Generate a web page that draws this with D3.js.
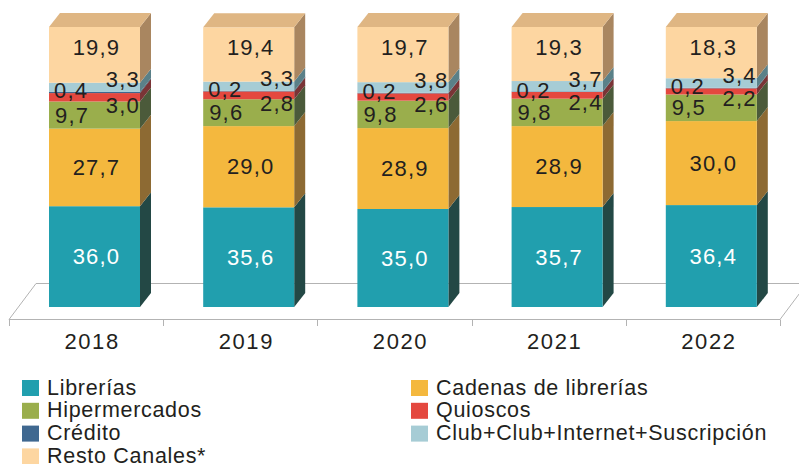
<!DOCTYPE html>
<html>
<head>
<meta charset="utf-8">
<script src="https://cdn.jsdelivr.net/npm/d3@7"></script>
<style>
  html, body { margin: 0; padding: 0; background: #fff; }
  svg { display: block; font-family: "Liberation Sans", Arial, Helvetica, sans-serif; }
</style>
</head>
<body>
<svg id="chart" width="799" height="464"></svg>
<script>
// Share of book sales by channel (%), per year
const years = ["2018", "2019", "2020", "2021", "2022"];
const librerias   = [36.0, 35.6, 35.0, 35.7, 36.4];
const cadenas     = [27.7, 29.0, 28.9, 28.9, 30.0];
const hiper       = [9.7, 9.6, 9.8, 9.8, 9.5];
const quioscos    = [3.0, 2.8, 2.6, 2.4, 2.2];
const credito     = [0.4, 0.2, 0.2, 0.2, 0.2];
const club        = [3.3, 3.3, 3.8, 3.7, 3.4];
const resto       = [19.9, 19.4, 19.7, 19.3, 18.3];

const seriesNames = ["Librerías", "Cadenas de librerías", "Hipermercados", "Quioscos",
                     "Crédito", "Club+Club+Internet+Suscripción", "Resto Canales*"];
const seriesValues = [librerias, cadenas, hiper, quioscos, credito, club, resto];

// front, side and top shades for each channel
const front = ["#219fae", "#f4b83e", "#9aae4c", "#e4483f", "#3f6890", "#a6ccd5", "#fdd6a1"];
const side  = ["#234845", "#8d6a33", "#4b5a3a", "#7a3436", "#2a3f55", "#5a8088", "#a98660"];
const topShade = "#dfb683";

const legendLeft  = ["Librerías", "Hipermercados", "Crédito", "Resto Canales*"];
const legendRight = ["Cadenas de librerías", "Quioscos", "Club+Club+Internet+Suscripción"];

const rows = years.map((y, i) => {
  const r = { year: y };
  seriesNames.forEach((n, k) => r[n] = seriesValues[k][i]);
  return r;
});

const stacked = d3.stack().keys(seriesNames)(rows);

const svg = d3.select("#chart");
const fmt = v => d3.format(".1f")(v).replace(".", ",");
const textColor = "#231f20";

const x = d3.scaleBand().domain(years).range([9, 780]);
const y = d3.scaleLinear().domain([0, 100]).range([307, 27]);
const barOffset = 40, barW = 91;
const dx = 11, dy = -14;

// floor
const floorG = svg.append("g").attr("fill", "none").attr("stroke", "#b3b3b3").attr("stroke-width", 1);
floorG.append("path").attr("d", "M9,319.5 L36,283.5 L799,283.5");
floorG.append("path").attr("d", "M9,319.5 L780,319.5 L807,283.5");
floorG.selectAll("line.tick")
  .data(x.domain().map(d => x(d)).concat([x.range()[1]]))
  .join("line")
  .attr("x1", d => Math.round(d) + 0.5).attr("x2", d => Math.round(d) + 0.5)
  .attr("y1", 319.5).attr("y2", 326);

// bars
const bars = svg.append("g");
stacked.forEach((layer, k) => {
  const g = bars.append("g");
  layer.forEach((seg, i) => {
    const x0 = x(years[i]) + barOffset;
    const yTop = y(seg[1]), yBot = y(seg[0]);
    // side face
    g.append("path")
      .attr("d", `M${x0 + barW},${yBot} L${x0 + barW + dx},${yBot + dy} L${x0 + barW + dx},${yTop + dy} L${x0 + barW},${yTop} Z`)
      .attr("fill", side[k]);
    // front face
    g.append("rect")
      .attr("x", x0).attr("y", yTop)
      .attr("width", barW).attr("height", yBot - yTop)
      .attr("fill", front[k]);
    // top face on the last segment
    if (k === stacked.length - 1) {
      g.append("path")
        .attr("d", `M${x0},${yTop} L${x0 + dx},${yTop + dy} L${x0 + barW + dx},${yTop + dy} L${x0 + barW},${yTop} Z`)
        .attr("fill", topShade);
    }
  });
});

// value labels
const labels = svg.append("g")
  .attr("font-size", 22).attr("letter-spacing", "1.2px").attr("fill", textColor);

function label(text, px, py, anchor, color) {
  labels.append("text")
    .attr("x", px).attr("y", py)
    .attr("text-anchor", anchor)
    .attr("dominant-baseline", "central")
    .attr("fill", color || textColor)
    .text(text);
}

years.forEach((yr, i) => {
  const x0 = x(yr) + barOffset;
  const cx = x0 + barW / 2 + 2;
  const s = k => stacked[k][i];
  // Librerías
  label(fmt(librerias[i]), cx, (y(s(0)[0]) + y(s(0)[1])) / 2, "middle", "#ffffff");
  // Cadenas
  label(fmt(cadenas[i]), cx, (y(s(1)[0]) + y(s(1)[1])) / 2, "middle");
  // Hipermercados
  label(fmt(hiper[i]), x0 + 6, (y(s(2)[0]) + y(s(2)[1])) / 2, "start");
  // Quioscos
  label(fmt(quioscos[i]), x0 + barW, y(s(3)[0]) + 4, "end");
  // Crédito
  label(fmt(credito[i]), x0 + 5, y(s(4)[1]) - 1, "start");
  // Club
  label(fmt(club[i]), x0 + barW, y(s(5)[0]) - 12, "end");
  // Resto
  label(fmt(resto[i]), cx, y(s(6)[1]) + 20, "middle");
});

// year labels
svg.append("g")
  .attr("font-size", 22).attr("letter-spacing", "1.6px").attr("fill", textColor)
  .selectAll("text")
  .data(years)
  .join("text")
  .attr("x", d => x(d) + x.bandwidth() / 2 + 6)
  .attr("y", 349)
  .attr("text-anchor", "middle")
  .text(d => d);

// legend
function legendColumn(names, lx, ly) {
  const g = svg.append("g").attr("transform", `translate(${lx},${ly})`);
  const item = g.selectAll("g")
    .data(names)
    .join("g")
    .attr("transform", (d, i) => `translate(0,${i * 22.8})`);
  item.append("rect")
    .attr("width", 17).attr("height", 16)
    .attr("fill", d => front[seriesNames.indexOf(d)]);
  item.append("text")
    .attr("x", 25).attr("y", 14.5)
    .attr("font-size", 21.5).attr("letter-spacing", "0.7px").attr("fill", textColor)
    .text(d => d);
}
legendColumn(legendLeft, 22, 380);
legendColumn(legendRight, 411, 380);
</script>
</body>
</html>
